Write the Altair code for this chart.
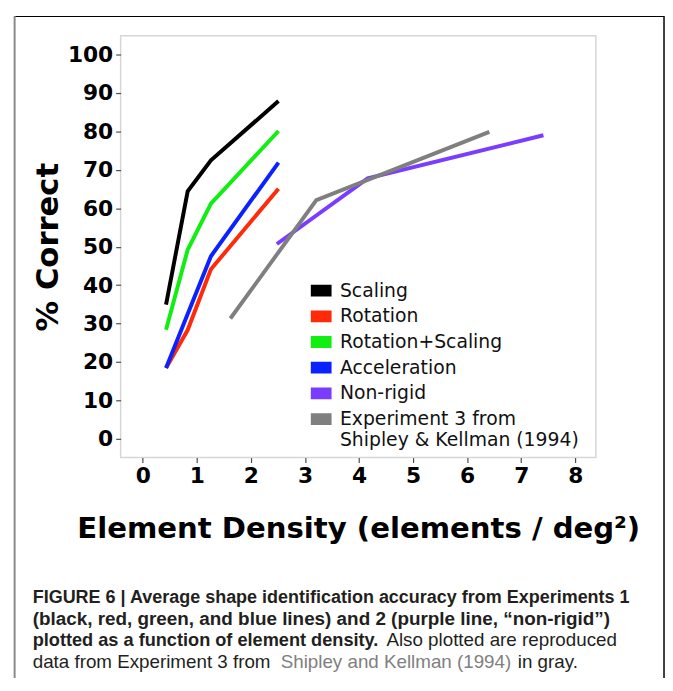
import altair as alt
import pandas as pd

# ---------------- data ----------------
series_names = [
    "Scaling",
    "Rotation",
    "Rotation+Scaling",
    "Acceleration",
    "Non-rigid",
    "Experiment 3 from Shipley & Kellman (1994)",
]
series_colors = ["#000000", "#ff2a0a", "#11ee11", "#0a22ff", "#7a3cff", "#7f7f7f"]

scaling_x = [0.43, 0.83, 1.26, 2.51]
scaling_y = [34.9, 64.4, 72.5, 87.9]
rotation_x = [0.43, 0.83, 1.26, 2.51]
rotation_y = [18.4, 28.3, 44.1, 65.1]
rotscale_x = [0.43, 0.83, 1.26, 2.51]
rotscale_y = [28.4, 49.2, 61.2, 80.1]
accel_x = [0.43, 0.83, 1.26, 2.51]
accel_y = [18.4, 32.5, 47.5, 71.9]
nonrigid_x = [2.48, 4.16, 7.41]
nonrigid_y = [50.7, 67.8, 79.0]
shipley_x = [1.62, 3.21, 6.41]
shipley_y = [31.3, 62.1, 79.9]

x_ticks = [0, 1, 2, 3, 4, 5, 6, 7, 8]
y_ticks = [0, 10, 20, 30, 40, 50, 60, 70, 80, 90, 100]

caption_lines = [
    [("FIGURE 6 | Average shape identification accuracy from Experiments 1", "bold", "#231f20")],
    [("(black, red, green, and blue lines) and 2 (purple line, \u201cnon-rigid\u201d)", "bold", "#231f20")],
    [("plotted as a function of element density.", "bold", "#231f20"),
     ("Also plotted are reproduced", "normal", "#231f20")],
    [("data from Experiment 3 from", "normal", "#231f20"),
     ("Shipley and Kellman (1994)", "normal", "#808080"),
     ("in gray.", "normal", "#231f20")],
]

# ---------------- table ----------------
all_x = [scaling_x, rotation_x, rotscale_x, accel_x, nonrigid_x, shipley_x]
all_y = [scaling_y, rotation_y, rotscale_y, accel_y, nonrigid_y, shipley_y]
rows = []
for name, xs, ys in zip(series_names, all_x, all_y):
    for xv, yv in zip(xs, ys):
        rows.append({"series": name, "density": xv, "correct": yv})
df = pd.DataFrame(rows)

FONT = "DejaVu Sans"
CAP_FONT = "Liberation Sans"

legend = alt.Legend(
    title=None,
    orient="none",
    legendX=190,
    legendY=245,
    padding=0,
    symbolType="M-1,-0.35H1M-1,0H1M-1,0.35H1",
    symbolSize=441,
    symbolStrokeWidth=4.6,
    symbolOpacity=1,
    labelFont=FONT,
    labelFontSize=19,
    labelColor="#111111",
    labelOffset=6,
    labelLimit=400,
    rowPadding=-1.2,
    labelExpr="datum.label == 'Experiment 3 from Shipley & Kellman (1994)' ? ['Experiment 3 from', 'Shipley & Kellman (1994)'] : datum.label",
)

lines = alt.Chart(df).mark_line(strokeWidth=4, strokeCap="butt").encode(
    x=alt.X(
        "density:Q",
        scale=alt.Scale(domain=[-0.41, 8.38], nice=False, zero=False),
        axis=alt.Axis(
            values=x_ticks,
            title="Element Density (elements / deg\u00b2)",
            titlePadding=29,
            titleFontSize=29.5,
        ),
    ),
    y=alt.Y(
        "correct:Q",
        scale=alt.Scale(domain=[-4.9, 104.9], nice=False, zero=False),
        axis=alt.Axis(values=y_ticks, title="% Correct", titlePadding=3, titleFontSize=31),
    ),
    color=alt.Color(
        "series:N",
        scale=alt.Scale(domain=series_names, range=series_colors),
        sort=series_names,
        legend=legend,
    ),
)

one = pd.DataFrame({"k": [0]})
frame_top = alt.Chart(one).mark_rule(color="#000000", strokeWidth=1.2).encode(
    x=alt.value(-107), x2=alt.value(550), y=alt.value(-19.5)
)
frame_right = alt.Chart(one).mark_rule(color="#000000", strokeWidth=1.5).encode(
    x=alt.value(550), y=alt.value(-20), y2=alt.value(700)
)
frame_left = alt.Chart(one).mark_rule(color="#8a8a8a", strokeWidth=2).encode(
    x=alt.value(-107.3), y=alt.value(-20), y2=alt.value(700)
)

# caption (positions relative to the plot origin)
cap_x0 = -89
cap_base = 574
cap_step = 22
seg_offsets = [[0], [0], [0, 358], [0, 251, 491]]
seg_sizes = [[18.2], [19.1], [18.4, 19.0], [19.0, 19.0, 19.0]]
caption_layers = []
for i, segs in enumerate(caption_lines):
    for (txt, weight, col), dx, fs in zip(segs, seg_offsets[i], seg_sizes[i]):
        caption_layers.append(
            alt.Chart(one).mark_text(
                align="left", baseline="alphabetic", font=CAP_FONT, fontSize=fs,
                fontWeight=weight, color=col,
            ).encode(
                x=alt.value(cap_x0 + dx), y=alt.value(cap_base + i * cap_step),
                text=alt.value(txt),
            )
        )

chart = alt.layer(
    lines, frame_top, frame_right, frame_left, *caption_layers
).properties(
    width=481,
    height=427,
    background="white",
    autosize=alt.AutoSizeParams(type="none"),
    padding={"left": 114, "top": 24, "right": 70, "bottom": 219},
).configure_view(
    stroke="#d6d6d6", strokeWidth=1.5
).configure_axis(
    grid=False,
    domain=False,
    labelFont=FONT,
    labelFontSize=22,
    labelFontWeight="bold",
    labelColor="#000000",
    labelPadding=3,
    tickColor="#4d4d4d",
    tickSize=5,
    tickWidth=1.2,
    titleFont=FONT,
    titleFontWeight="bold",
    titleColor="#000000",
)

chart.save("out.html", embed_options={"renderer": "svg", "actions": False})
